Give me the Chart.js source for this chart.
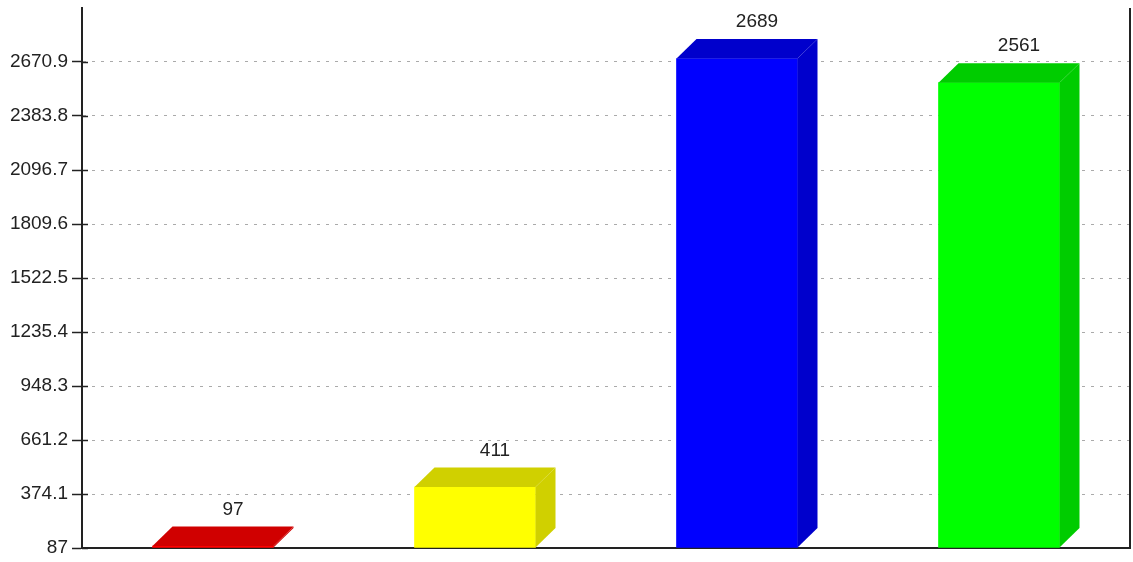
<!DOCTYPE html>
<html>
<head>
<meta charset="utf-8">
<script src="https://cdn.jsdelivr.net/npm/chart.js@4"></script>
<style>
  html, body { margin: 0; padding: 0; background: #fff; }
  #wrap { width: 1133px; height: 562px; }
</style>
</head>
<body>
<div id="wrap"><canvas id="mycanvas" width="1133" height="562"></canvas></div>
<script>
var categories = ["A", "B", "C", "D"];
var values = [97, 411, 2689, 2561];
var tickValues = [87, 374.1, 661.2, 948.3, 1235.4, 1522.5, 1809.6, 2096.7, 2383.8, 2670.9];
var tickLabels = ["87", "374.1", "661.2", "948.3", "1235.4", "1522.5", "1809.6", "2096.7", "2383.8", "2670.9"];
var yMin = 87;
var yMax = 2958;

var frontColors = ["#ff0000", "#ffff00", "#0000ff", "#00ff00"];
var sideColors = ["#d00000", "#d0d000", "#0000cc", "#00cc00"];

var depthX = 20;
var depthY = 19.5;
var fontFamily = "'Liberation Sans', Arial, sans-serif";

// draws the top and side faces of each bar, the value labels and the extra axis bits
var bar3d = {
  id: "bar3d",
  afterDatasetsDraw: function(chart) {
    var ctx = chart.ctx;
    var meta = chart.getDatasetMeta(0);
    var area = chart.chartArea;
    var y = chart.scales.y;
    ctx.save();
    meta.data.forEach(function(bar, i) {
      var left = bar.x - bar.width / 2;
      var right = bar.x + bar.width / 2;
      var top = bar.y;
      var base = Math.min(bar.base, area.bottom);
      ctx.fillStyle = sideColors[i];
      // top face
      ctx.beginPath();
      ctx.moveTo(left, top);
      ctx.lineTo(left + depthX, top - depthY);
      ctx.lineTo(right + depthX, top - depthY);
      ctx.lineTo(right, top);
      ctx.closePath();
      ctx.fill();
      // side face
      ctx.beginPath();
      ctx.moveTo(right, top);
      ctx.lineTo(right + depthX, top - depthY);
      ctx.lineTo(right + depthX, base - depthY);
      ctx.lineTo(right, base);
      ctx.closePath();
      ctx.fill();
      // value label
      ctx.fillStyle = "#222";
      ctx.font = "19px " + fontFamily;
      ctx.textAlign = "center";
      ctx.textBaseline = "middle";
      ctx.fillText(String(values[i]), bar.x + depthX, top - depthY - 17);
    });

    ctx.strokeStyle = "#222";
    ctx.lineWidth = 1.5;
    // inner tick stubs
    tickValues.forEach(function(v) {
      var py = Math.round(y.getPixelForValue(v)) + 0.5;
      ctx.beginPath();
      ctx.moveTo(area.left, py);
      ctx.lineTo(area.left + 6, py);
      ctx.stroke();
    });
    // right border
    ctx.lineWidth = 2;
    ctx.beginPath();
    ctx.moveTo(area.right, area.top);
    ctx.lineTo(area.right, area.bottom);
    ctx.stroke();
    ctx.restore();
  }
};

var chartdata = {
  labels: categories,
  datasets: [
    {
      label: "values",
      backgroundColor: frontColors,
      borderWidth: 0,
      barThickness: 121,
      base: yMin,
      data: values
    }
  ]
};

var ctx = document.getElementById("mycanvas");

var BarGraph = new Chart(ctx, {
  type: "bar",
  data: chartdata,
  plugins: [bar3d],
  options: {
    responsive: false,
    animation: false,
    layout: { padding: { top: 8, right: 3, bottom: 14, left: 0 } },
    plugins: {
      legend: { display: false },
      tooltip: { enabled: false }
    },
    scales: {
      x: {
        ticks: { display: false },
        grid: { display: false, drawTicks: false },
        border: { display: true, color: "#222", width: 2 },
        afterFit: function(scale) { scale.height = 0; }
      },
      y: {
        min: yMin,
        max: yMax,
        afterBuildTicks: function(scale) {
          scale.ticks = tickValues.map(function(v) { return { value: v }; });
        },
        afterFit: function(scale) {
          scale.width = 82;
          scale.paddingTop = 0;
          scale.paddingBottom = 0;
        },
        ticks: {
          padding: 4,
          color: "#222",
          font: { family: fontFamily, size: 19 },
          callback: function(value, index) { return tickLabels[index]; }
        },
        grid: {
          color: "#aaaaaa",
          lineWidth: 1,
          tickLength: 10,
          tickColor: "#222",
          tickWidth: 1.5,
          tickBorderDash: []
        },
        border: { display: true, color: "#222", width: 2, dash: [3, 6] }
      }
    }
  }
});
</script>
</body>
</html>
